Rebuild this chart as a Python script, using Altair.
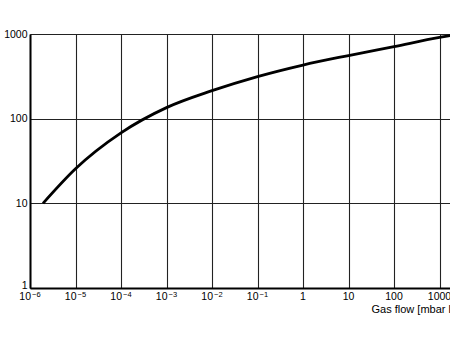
import altair as alt
import pandas as pd

# Curve (gas flow vs. value, log-log)
gas_flow = [1.93e-6, 1e-5, 1e-4, 1e-3, 1e-2, 1e-1, 1, 10, 100, 1000, 1740]
value = [10, 25.6, 68, 135, 214, 314, 430, 557, 711, 910, 960]

x_tick_values = [1e-6, 1e-5, 1e-4, 1e-3, 1e-2, 1e-1, 1, 10, 100, 1000]
x_tick_base = ["10", "10", "10", "10", "10", "10", "1", "10", "100", "1000"]
x_tick_exp = ["−6", "−5", "−4", "−3", "−2", "−1", "", "", "", ""]
y_tick_values = [1, 10, 100, 1000]
y_tick_labels = ["1", "10", "100", "1000"]

x_title = "Gas flow [mbar l/s]"

font = "Liberation Sans"
W, H = 420, 254

df = pd.DataFrame({"gas_flow": gas_flow, "value": value})
ticks = pd.DataFrame({"x": x_tick_values, "base": x_tick_base, "exp": x_tick_exp})
ticks["has_exp"] = ticks["exp"] != ""

y_label_expr = "[" + ",".join("'" + s + "'" for s in y_tick_labels) + "][round(log(datum.value)/LN10)]"

xscale = alt.Scale(type="log", domain=[1e-6, 1700], nice=False)
yscale = alt.Scale(type="log", domain=[1, 1000], nice=False)

line = alt.Chart(df).mark_line(
    color="black", strokeWidth=2.8, interpolate="monotone", clip=True
).encode(
    x=alt.X(
        "gas_flow:Q",
        scale=xscale,
        axis=alt.Axis(
            values=x_tick_values,
            labels=False,
            grid=True,
            gridColor="#222222",
            gridWidth=1.1,
            ticks=False,
            domain=True,
            domainColor="black",
            domainWidth=2,
            title=x_title,
            titleFont=font,
            titleFontSize=11,
            titleFontWeight="normal",
            titleColor="black",
            titleAnchor="start",
            titleAlign="left",
            titleX=341,
            titleY=24,
            titleBaseline="alphabetic",
        ),
    ),
    y=alt.Y(
        "value:Q",
        scale=yscale,
        axis=alt.Axis(
            values=y_tick_values,
            labelExpr=y_label_expr,
            grid=True,
            gridColor="#222222",
            gridWidth=1.1,
            ticks=False,
            domain=True,
            domainColor="black",
            domainWidth=2,
            labelPadding=3,
            labelFont=font,
            labelFontSize=10.5,
            labelColor="black",
            labelBaseline={"condition": {"test": "datum.value == 1", "value": "alphabetic"}, "value": "middle"},
            labelFlush=False,
            labelOverlap=False,
            title=None,
        ),
    ),
)

# plain labels (no exponent): centred on the tick
plain = alt.Chart(ticks).transform_filter("!datum.has_exp").mark_text(
    font=font, fontSize=10.5, color="black", align="center", baseline="top"
).encode(
    x=alt.X("x:Q", scale=xscale),
    y=alt.value(H + 4),
    text="base:N",
)

# "10" part of power labels
base = alt.Chart(ticks).transform_filter("datum.has_exp").mark_text(
    font=font, fontSize=10.5, color="black", align="right", baseline="top", dx=1
).encode(
    x=alt.X("x:Q", scale=xscale),
    y=alt.value(H + 4),
    text="base:N",
)

# exponent part
exp = alt.Chart(ticks).transform_filter("datum.has_exp").mark_text(
    font=font, fontSize=7.5, color="black", align="left", baseline="top", dx=2
).encode(
    x=alt.X("x:Q", scale=xscale),
    y=alt.value(H + 3),
    text="exp:N",
)

chart = alt.layer(line, plain, base, exp).properties(
    width=W,
    height=H,
    padding={"left": 30, "top": 34, "right": 0, "bottom": 50},
    autosize=alt.AutoSizeParams(type="none"),
    background="white",
).configure_view(stroke=None)

chart.save("out.html", embed_options={"renderer": "svg", "actions": False})
